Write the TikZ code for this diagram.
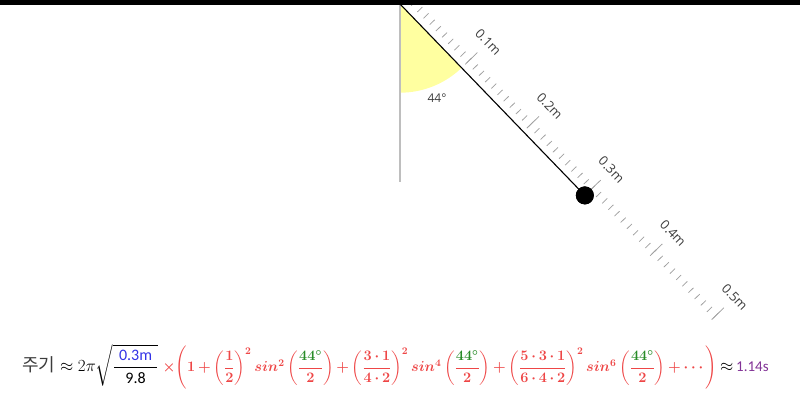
\RequirePackage{fix-cm}
\documentclass[tikz,border=0pt]{standalone}
\usepackage{amsmath}
\usepackage{fontspec}
\setmainfont{Carlito}
\newfontfamily\kfont{Noto Sans CJK KR}
\newfontfamily\rulerfont{Open Sans}
\usetikzlibrary{
  calc,
  positioning,
}
\definecolor{sectoryellow}{RGB}{255,255,160}
\definecolor{plumbgray}{RGB}{190,190,190}
\definecolor{tickgray}{RGB}{160,160,160}
\definecolor{labelgray}{RGB}{60,60,60}
\definecolor{fred}{RGB}{238,70,70}
\definecolor{fgreen}{RGB}{40,140,40}
\definecolor{fblue}{RGB}{50,50,230}
\definecolor{fpurple}{RGB}{130,50,150}
\newcommand{\fractxt}[1]{\text{\fontsize{16}{18}\selectfont #1}}
\newcommand{\halfangle}{\left(\dfrac{\textcolor{fgreen}{44^\circ}}{2}\right)}
\tikzset{
  x=1pt, y=1pt,
  tickmark/.style={draw=tickgray, line width=0.75pt},
  rulerlabel/.style={text=labelgray, rotate=-46, inner sep=0pt,
    font=\rulerfont\fontsize{13}{15}\selectfont},
  bobnode/.style={circle, fill=black, minimum size=18pt, inner sep=0pt},
}

\begin{document}
\begin{tikzpicture}

        \useasboundingbox (0,0) rectangle (800,400);

        \coordinate (pivot) at (400,396);

        \fill [sectoryellow] (pivot) -- ++(-90:88.7)
              arc [start angle=-90, end angle=-46, radius=88.7] -- cycle;

        \draw [plumbgray, line width=1.5pt] (pivot) -- ++(0,-178) coordinate (plumb);

        \node [text=labelgray, font=\rulerfont\fontsize{12}{14}\selectfont]
              (anglelabel) at (437,302) {44\textdegree};

        \begin{scope}[shift={(pivot)}, rotate=-46]
          \foreach \i in {1,...,50} {
            \draw [tickmark] (\i * 8.87, 7) -- (\i * 8.87, 14);
          }
          \foreach \k in {1,...,5} {
            \draw [tickmark] (\k * 88.7, 5) -- (\k * 88.7, 22);
            \node [rulerlabel] (mark\k) at (\k * 88.7, 37) {0.\k m};
          }
          \node [bobnode] (bob) at (266.1,0) {};
        \end{scope}

        \draw [black, line width=1.1pt] (pivot) -- (bob.center);
        \node [bobnode] at (bob) {};

        \fill [black] (0,395) rectangle (800,400);

        % period formula
        \node [anchor=west, inner sep=0pt] (period) at (22,33) {%
          {\kfont\fontsize{18}{20}\selectfont\color{labelgray}주기}%
          {\fontsize{17}{20}\selectfont
            $\;\approx 2\pi\sqrt{\dfrac{\;\textcolor{fblue}{\fractxt{0.3m}}\;}{\fractxt{9.8}}}\;$}%
          {\fontsize{14.5}{17}\selectfont\color{fred}\boldmath\medmuskip=3mu
            $\times\Biggl(1+\left(\dfrac{1}{2}\right)^{2} sin^{2}\halfangle
            +\left(\dfrac{3\cdot1}{4\cdot2}\right)^{2} sin^{4}\halfangle
            +\left(\dfrac{5\cdot3\cdot1}{6\cdot4\cdot2}\right)^{2} sin^{6}\halfangle
            +\cdots\Biggr)$}%
          {\fontsize{17}{20}\selectfont$\,\approx\,$}%
          {\fontsize{15}{17}\selectfont\color{fpurple}1.14s}};
      \end{tikzpicture}
\end{document}
